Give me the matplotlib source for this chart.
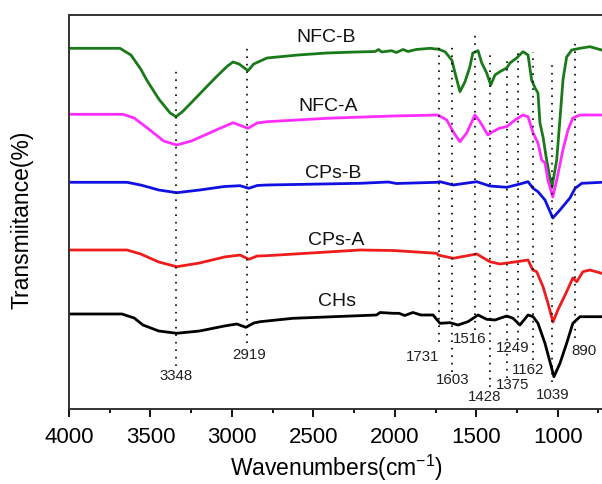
import matplotlib
matplotlib.use("Agg")
import matplotlib.pyplot as plt
from matplotlib.ticker import MultipleLocator

plt.rcParams['font.family'] = ['Liberation Sans', 'DejaVu Sans']
plt.rcParams['mathtext.fontset'] = 'custom'
plt.rcParams['mathtext.rm'] = 'Liberation Sans'
plt.rcParams['mathtext.default'] = 'regular'

# ---- data (wavenumber cm^-1, transmittance a.u.) ----
nfcb_w = [4000, 3687, 3620, 3560, 3523, 3449, 3379, 3343, 3299, 3198, 3097, 3027, 2993, 2956, 2901, 2866, 2785,
          2594, 2418, 2241, 2120, 2100, 2080, 2020, 1990, 1949, 1919, 1869, 1783, 1748, 1735, 1692, 1650, 1630,
          1600, 1569, 1539, 1521, 1489, 1466, 1436, 1411, 1385, 1355, 1313, 1293, 1252, 1213, 1182, 1160, 1139,
          1121, 1109, 1090, 1068, 1036, 1006, 986, 967, 945, 914, 863, 802, 730]
nfcb_t = [360.7, 360.7, 354, 340, 329, 310, 296, 292.3, 298, 315, 332, 343, 347, 345, 338.3, 345, 351,
          354, 356, 357, 357.5, 359.5, 357, 358.3, 356.5, 359.5, 357.5, 359.5, 360.7, 360, 360, 357.3, 349, 336,
          317.3, 327.3, 342.3, 356, 358.3, 346, 336, 324, 334, 337.3, 341, 346, 351, 357.3, 354, 329, 321,
          316, 286, 272, 249, 221, 249, 290, 330, 352, 359, 360.7, 362.3, 359]

nfca_w = [4000, 3669, 3600, 3503, 3419, 3339, 3248, 3097, 2993, 2901, 2845, 2785, 2418, 2011, 1741, 1735, 1681,
          1642, 1600, 1559, 1508, 1477, 1429, 1398, 1355, 1313, 1262, 1213, 1182, 1151, 1121, 1098, 1078, 1060,
          1030, 1006, 968, 937, 907, 863, 728]
nfca_t = [294.7, 294.7, 291, 279, 268, 264, 268, 279, 286.3, 280.7, 286, 287.3, 290.7, 293, 294, 294, 289,
          277.3, 267.3, 276, 294, 287.3, 274, 277.3, 281, 282.3, 289, 294, 292.3, 276, 266, 249, 246, 229,
          212, 229, 259, 279, 291, 294, 294]

cpsb_w = [4000, 3644, 3560, 3449, 3339, 3198, 3046, 2950, 2896, 2845, 2785, 2213, 2040, 1990, 1741, 1723, 1642,
          1497, 1416, 1313, 1232, 1182, 1151, 1121, 1078, 1030, 986, 925, 893, 852, 728]
cpsb_t = [226.7, 226.7, 224, 219, 216.3, 219, 222.5, 223.3, 220.7, 223.5, 224, 225.7, 227, 225.5, 226.7, 227.3, 224,
          227.3, 223, 221.7, 225, 227.3, 220.7, 217.3, 209, 191, 199, 211, 220.7, 225.7, 226.7]

cpsa_w = [4000, 3644, 3560, 3449, 3339, 3198, 3046, 2950, 2896, 2845, 2785, 2213, 2011, 1741, 1735, 1642, 1497,
          1416, 1355, 1252, 1182, 1153, 1129, 1090, 1060, 1029, 999, 945, 907, 883, 845, 802, 730]
cpsa_t = [159, 159, 155, 147, 142.3, 146, 152, 154, 149.7, 153, 153.3, 159, 158.5, 155.7, 154, 150.7, 155,
          147.3, 145, 147.3, 149, 139, 137.3, 122.3, 106, 87, 99, 117.3, 131, 127.3, 137.3, 139, 135.7]

chs_w = [4000, 3675, 3600, 3546, 3449, 3339, 3198, 3046, 2970, 2914, 2865, 2827, 2625, 2112, 2090, 2011, 1974,
         1939, 1889, 1839, 1765, 1723, 1661, 1612, 1551, 1489, 1436, 1385, 1313, 1274, 1232, 1182, 1151, 1121,
         1078, 1023, 986, 945, 907, 863, 728]
chs_t = [95, 95, 91, 84, 78, 75.7, 78, 83, 85, 81.7, 86, 87.3, 90.7, 94, 96.5, 95.7, 95.7,
         93.5, 96.5, 94, 94, 85.7, 86.3, 84, 87.3, 94, 89.7, 89, 93, 90.7, 84, 94, 92.3, 85.7,
         65.7, 32.3, 45.7, 65.7, 85.7, 92.3, 92.3]

series_names = ['NFC-B', 'NFC-A', 'CPs-B', 'CPs-A', 'CHs']
series_colors = ['#1a7a1a', '#ff2cff', '#1010e0', '#ee1c1c', '#000000']

peak_lines = [3345, 2905, 1731, 1646, 1510, 1415, 1311, 1246, 1150, 1032, 891]
peak_labels = ['3348', '2919', '1731', '1603', '1516', '1428', '1375', '1249', '1162', '1039', '890']

xticks = [4000, 3500, 3000, 2500, 2000, 1500, 1000]

# ---- layout ----
W, H = 602, 484
fig = plt.figure(figsize=(W / 100, H / 100), dpi=100)
ax = fig.add_axes([69 / W, 1 - 409 / H, (W - 69) / W, (409 - 15) / H])
ax.set_xlim(4000, 728)
ax.set_ylim(0, 394)

ws = [nfcb_w, nfca_w, cpsb_w, cpsa_w, chs_w]
ts = [nfcb_t, nfca_t, cpsb_t, cpsa_t, chs_t]
for w, t, c in zip(ws, ts, series_colors):
    ax.plot(w, t, color=c, lw=2.0, solid_joinstyle='round')

# dotted guide lines: (top, bottom) in axis units
extents = [(341, 43), (364, 66), (366, 67), (364, 37), (377, 79), (359, 22), (351, 31), (361, 69),
           (357, 49), (349, 27), (369, 71)]
for x, (top, bot) in zip(peak_lines, extents):
    ax.plot([x, x], [bot, top], color='black', lw=1.2, linestyle=(0, (1, 3.5)))

label_pos = [(3343, 33), (2895, 54), (1827, 52), (1643, 29), (1538, 70), (1446, 12), (1274, 24),
             (1274, 61), (1182, 39), (1029, 14), (838, 58)]
for (x, y), s in zip(label_pos, peak_labels):
    ax.text(x, y, s, ha='center', va='center', fontsize=10.8, color='#222222')

name_pos = [(2422, 372), (2410, 303), (2379, 236), (2357, 169), (2355, 108)]
for (x, y), s in zip(name_pos, series_names):
    ax.text(x, y, s, ha='center', va='center', fontsize=14, color='#111111')

ax.xaxis.set_minor_locator(MultipleLocator(250))
ax.set_xticks(xticks)
ax.tick_params(axis='x', which='major', direction='out', length=5.8, width=1.3, labelsize=16, pad=7.5)
ax.tick_params(axis='x', which='minor', direction='out', length=3, width=1.3)
ax.set_yticks([])
ax.spines['right'].set_visible(False)
for s in ['left', 'bottom', 'top']:
    ax.spines[s].set_linewidth(1.4)
    ax.spines[s].set_color('#333333')

fig.text(336 / W, 1 - 476 / H, 'Wavenumbers(cm$^{-1}$)', ha='center', va='baseline', fontsize=16.5)
fig.text(22 / W, 1 - 220 / H, 'Transmiitance(%)', ha='center', va='center', fontsize=16.5, rotation=90)

fig.savefig('out.png', dpi=100)
